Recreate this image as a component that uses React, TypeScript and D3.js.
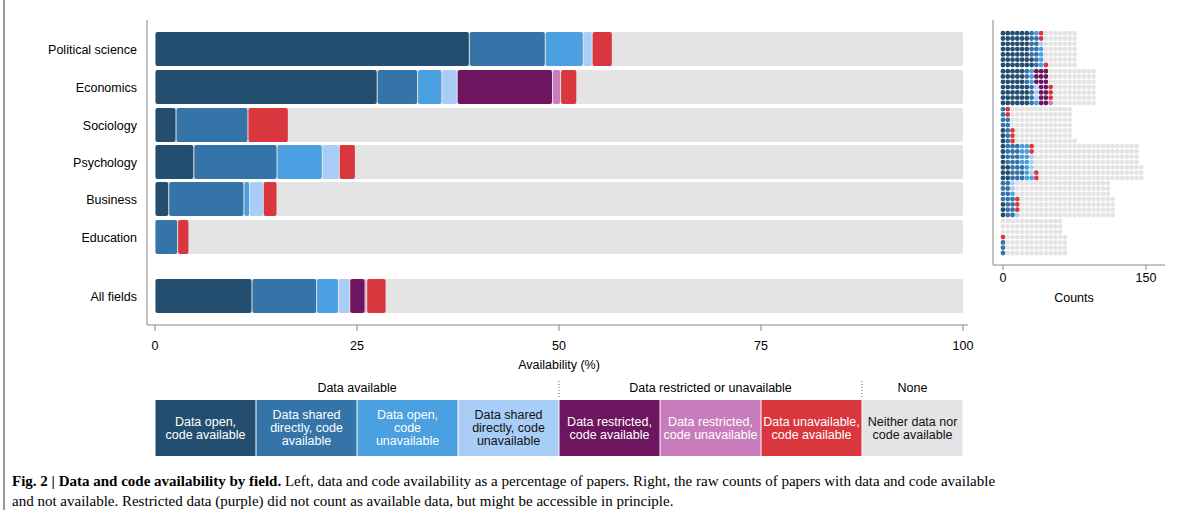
import React from 'react';
import * as d3 from 'd3';

const fields = ['Political science', 'Economics', 'Sociology', 'Psychology', 'Business', 'Education', 'All fields'];
const categories = [
  'Data open, code available', 'Data shared directly, code available', 'Data open, code unavailable',
  'Data shared directly, code unavailable', 'Data restricted, code available', 'Data restricted, code unavailable',
  'Data unavailable, code available', 'Neither data nor code available',
];
const colors = ['#234e70', '#3574a8', '#4aa0e0', '#a8cdf7', '#6e1560', '#c87cbb', '#d9363e', '#e4e4e4'];
// percentage for the first seven categories; the rest is "neither"
const shares = [
  [38.9, 9.4, 4.7, 1.1, 0, 0, 2.5],
  [27.5, 5.0, 3.0, 1.9, 11.8, 1.0, 2.0],
  [2.6, 8.9, 0, 0, 0, 0, 5.0],
  [4.8, 10.3, 5.6, 2.1, 0, 0, 2.0],
  [1.7, 9.3, 0.7, 1.7, 0, 0, 1.7],
  [0, 2.8, 0, 0, 0, 0, 1.4],
  [12.0, 8.0, 2.7, 1.4, 1.9, 0.2, 2.4],
];
const counts = [112, 140, 106, 206, 165, 95];
const pctTicks = [0, 25, 50, 75, 100];
const countTicks = [0, 150];

const App: React.FC = () => {
  const ref = React.useRef<SVGSVGElement>(null);
  React.useEffect(() => {
    const svg = d3.select(ref.current);
    svg.selectAll('*').remove();
    const font = 'Helvetica, Arial, "Liberation Sans", sans-serif';
    const x = d3.scaleLinear().domain([0, 100]).range([155, 963]);
    const yPos = [49, 87, 125, 162, 199, 237, 296];
    const bh = 34;

    // axes
    svg.append('line').attr('x1', 147).attr('x2', 147).attr('y1', 20).attr('y2', 325).attr('stroke', '#888');
    svg.append('line').attr('x1', 147).attr('x2', 968).attr('y1', 325).attr('y2', 325).attr('stroke', '#888');
    pctTicks.forEach(t => {
      svg.append('line').attr('x1', x(t)).attr('x2', x(t)).attr('y1', 325).attr('y2', 331).attr('stroke', '#888');
      svg.append('text').attr('x', x(t)).attr('y', 350).attr('text-anchor', 'middle')
        .attr('font-family', font).attr('font-size', 12.5).text(t);
    });
    svg.append('text').attr('x', 559).attr('y', 369).attr('text-anchor', 'middle')
      .attr('font-family', font).attr('font-size', 12.5).text('Availability (%)');

    fields.forEach((f, i) => {
      const y0 = yPos[i] - bh / 2;
      svg.append('text').attr('x', 137).attr('y', yPos[i] + 4.5).attr('text-anchor', 'end')
        .attr('font-family', font).attr('font-size', 12.5).text(f);
      svg.append('rect').attr('x', x(0)).attr('y', y0).attr('width', x(100) - x(0)).attr('height', bh)
        .attr('rx', 2).attr('fill', colors[7]);
      let acc = 0;
      shares[i].forEach((v, k) => {
        if (v > 0) {
          svg.append('rect').attr('x', x(acc) + 0.5).attr('y', y0).attr('width', Math.max(x(acc + v) - x(acc) - 1, 0.5))
            .attr('height', bh).attr('rx', 2).attr('fill', colors[k]);
        }
        acc += v;
      });
    });

    // count dots
    const xc = d3.scaleLinear().domain([0, 150]).range([1003, 1146]);
    svg.append('line').attr('x1', 993).attr('x2', 993).attr('y1', 20).attr('y2', 265).attr('stroke', '#888');
    svg.append('line').attr('x1', 993).attr('x2', 1165).attr('y1', 265).attr('y2', 265).attr('stroke', '#888');
    countTicks.forEach(t => {
      svg.append('line').attr('x1', xc(t)).attr('x2', xc(t)).attr('y1', 265).attr('y2', 270).attr('stroke', '#888');
      svg.append('text').attr('x', xc(t)).attr('y', 282).attr('text-anchor', 'middle')
        .attr('font-family', font).attr('font-size', 12.5).text(t);
    });
    svg.append('text').attr('x', 1074).attr('y', 302).attr('text-anchor', 'middle')
      .attr('font-family', font).attr('font-size', 12.5).text('Counts');
    const rows = 7;
    const dy = 5.3;
    counts.forEach((n, i) => {
      const cols: number[] = [];
      shares[i].forEach((v, k) => { for (let j = 0; j < Math.round(v / 100 * n); j++) cols.push(k); });
      while (cols.length < n) cols.push(7);
      cols.forEach((k, j) => {
        const c = Math.floor(j / rows);
        const r = j % rows;
        svg.append('circle').attr('cx', xc(c * 5)).attr('cy', yPos[i] + 16 - r * dy)
          .attr('r', 2.4).attr('fill', colors[k]);
      });
    });

    // legend
    const lw = (x(100) - x(0)) / 8;
    const heads = [['Data available', 0, 4], ['Data restricted or unavailable', 4, 7], ['None', 7, 8]] as const;
    heads.forEach(([t, a, b]) => {
      svg.append('text').attr('x', x(0) + lw * (a + b) / 2).attr('y', 392).attr('text-anchor', 'middle')
        .attr('font-family', font).attr('font-size', 12.5).text(t);
    });
    [4, 7].forEach(k => {
      svg.append('line').attr('x1', x(0) + lw * k).attr('x2', x(0) + lw * k).attr('y1', 381).attr('y2', 398)
        .attr('stroke', '#666').attr('stroke-dasharray', '1,2');
    });
    categories.forEach((c, k) => {
      const lx = x(0) + lw * k;
      svg.append('rect').attr('x', lx + 0.5).attr('y', 400).attr('width', lw - 1).attr('height', 56).attr('fill', colors[k]);
      const words = c.split(', ');
      let lines: string[];
      if (k === 1) lines = ['Data shared', 'directly, code', 'available'];
      else if (k === 3) lines = ['Data shared', 'directly, code', 'unavailable'];
      else if (k === 2) lines = ['Data open,', 'code', 'unavailable'];
      else if (k === 7) lines = ['Neither data nor', 'code available'];
      else lines = [words[0] + ',', words[1]];
      const fill = k === 3 || k === 7 ? '#111' : '#fff';
      lines.forEach((l, j) => {
        svg.append('text').attr('x', lx + lw / 2).attr('y', 428 + (j - (lines.length - 1) / 2) * 13 + 4)
          .attr('text-anchor', 'middle').attr('font-family', font).attr('font-size', 12.5).attr('fill', fill).text(l);
      });
    });

    // caption
    svg.append('line').attr('x1', 4).attr('x2', 4).attr('y1', 0).attr('y2', 510).attr('stroke', '#333');
    const cap1 = svg.append('text').attr('x', 12).attr('y', 486).attr('font-family', '"Liberation Serif", serif').attr('font-size', 15);
    cap1.append('tspan').attr('font-weight', 'bold').text('Fig. 2 | Data and code availability by field. ');
    cap1.append('tspan').text('Left, data and code availability as a percentage of papers. Right, the raw counts of papers with data and code available');
    svg.append('text').attr('x', 12).attr('y', 506).attr('font-family', '"Liberation Serif", serif').attr('font-size', 15)
      .text('and not available. Restricted data (purple) did not count as available data, but might be accessible in principle.');
  }, []);
  return <svg ref={ref} width={1199} height={532} style={{ position: 'absolute', left: 0, top: 0 }} />;
};

export default App;
